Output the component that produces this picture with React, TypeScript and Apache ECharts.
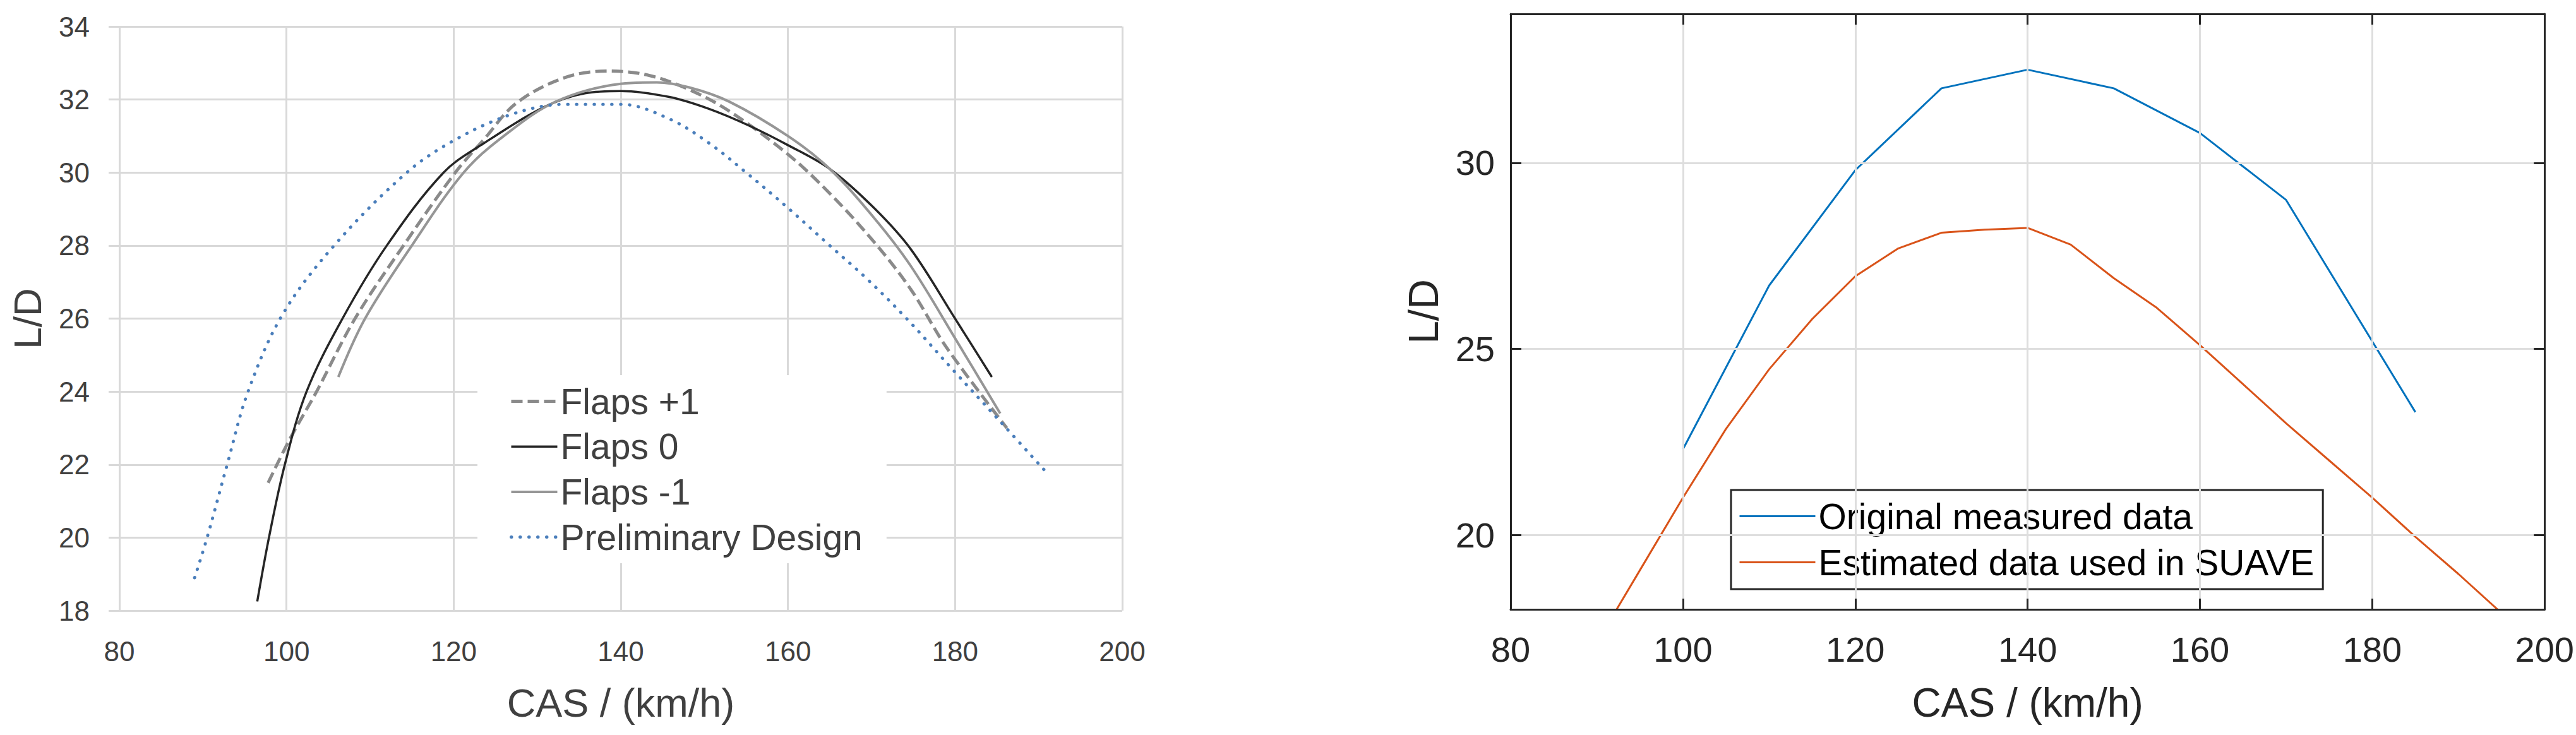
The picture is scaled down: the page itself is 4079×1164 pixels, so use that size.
import { useEffect, useRef } from "react";
import * as echarts from "echarts";

// ---------- Left chart (flight test curves) ----------
const flapsPlus1Cas = [97.8, 100.4, 103.6, 108.2, 114, 120.2, 123.6, 127.5, 133.3, 138.6, 143.4, 148.2, 153, 160, 165, 170.3, 174.7, 179, 186.2];
const flapsPlus1LD = [21.5, 22.7, 24.0, 26.0, 28.0, 30.0, 30.9, 31.9, 32.6, 32.78, 32.66, 32.27, 31.68, 30.5, 29.43, 28.1, 26.8, 25.2, 23.0];

const flaps0Cas = [96.5, 97.9, 99.8, 102.4, 106.7, 112.0, 118.8, 123.6, 130.9, 135.7, 140, 145.8, 150.6, 155.4, 160, 165, 170.3, 174.7, 180, 184.4];
const flaps0LD = [18.25, 20.0, 22.0, 24.0, 26.0, 28.0, 30.0, 30.8, 31.8, 32.17, 32.23, 32.07, 31.74, 31.28, 30.75, 30.1, 29.03, 27.9, 26.0, 24.4];

const flapsMinus1Cas = [106.2, 109.4, 115, 121.2, 126, 132.3, 140, 144.3, 148.2, 153, 160, 165, 170.3, 174.7, 180, 185.4];
const flapsMinus1LD = [24.4, 26.0, 28.0, 30.0, 31.0, 31.95, 32.43, 32.47, 32.33, 31.94, 31.0, 30.1, 28.76, 27.44, 25.46, 23.4];

const prelimCas = [89, 90.5, 92.9, 95.4, 99.5, 105.7, 114.4, 120.2, 127, 133.3, 140, 145.8, 150.6, 155, 160, 165, 169.4, 174.2, 180, 186, 190.8];
const prelimLD = [18.9, 20.0, 22.0, 24.0, 26.1, 28.0, 30.0, 30.9, 31.6, 31.87, 31.87, 31.47, 30.8, 30.0, 29.03, 28.0, 27.1, 26.0, 24.53, 23.03, 21.82];

const leftSeriesNames = ["Flaps +1", "Flaps 0", "Flaps -1", "Preliminary Design"];

// ---------- Right chart (SUAVE comparison) ----------
const measuredCas = [100, 110, 120, 130, 140, 150, 160, 170, 185];
const measuredLD = [22.3, 26.7, 29.8, 32.0, 32.5, 32.0, 30.8, 29.0, 23.3];

const suaveCas = [90, 95, 100, 105, 110, 115, 120, 125, 130, 135, 140, 145, 150, 155, 160, 165, 170, 175, 180, 185, 190, 195, 200];
const suaveLD = [17.1, 19.05, 21.0, 22.85, 24.45, 25.8, 26.95, 27.7, 28.12, 28.2, 28.25, 27.8, 26.9, 26.1, 25.1, 24.05, 23.0, 22.0, 21.0, 19.95, 18.95, 17.9, 16.9];

const rightSeriesNames = ["Original measured data", "Estimated data used in SUAVE"];

const xTickMin = 80;
const xTickMax = 200;
const xTickStep = 20;
const yMin = 18;
const yMax = 34;

const zip = (xs: number[], ys: number[]) => xs.map((x, i) => [x, ys[i]]);

const FONT = "'Liberation Sans', Arial, Helvetica, sans-serif";

const leftStyles = [
  { color: "#8a8a8a", width: 5, type: [18, 8] as any, cap: "butt" },
  { color: "#262626", width: 3.5, type: "solid" as any, cap: "butt" },
  { color: "#969696", width: 4, type: "solid" as any, cap: "butt" },
  { color: "#4a7ebb", width: 5, type: [0.5, 13.5] as any, cap: "round" },
];
const leftData = [
  zip(flapsPlus1Cas, flapsPlus1LD),
  zip(flaps0Cas, flaps0LD),
  zip(flapsMinus1Cas, flapsMinus1LD),
  zip(prelimCas, prelimLD),
];
const rightColors = ["#0072bd", "#d95319"];
const rightData = [zip(measuredCas, measuredLD), zip(suaveCas, suaveLD)];

function buildOption(): any {
  const leftGrid = "#d9d9d9";
  const leftText = "#404040";
  const rightText = "#262626";
  const rightGrid = "#dedede";

  const series: any[] = [];
  leftSeriesNames.forEach((name, i) => {
    series.push({
      name,
      type: "line",
      xAxisIndex: 0,
      yAxisIndex: 0,
      data: leftData[i],
      smooth: 0.35,
      symbol: "none",
      showSymbol: false,
      itemStyle: { color: leftStyles[i].color },
      lineStyle: { ...leftStyles[i] },
      z: 3,
    });
  });
  rightSeriesNames.forEach((name, i) => {
    series.push({
      name,
      type: "line",
      xAxisIndex: 1,
      yAxisIndex: 1,
      data: rightData[i],
      smooth: false,
      symbol: "none",
      showSymbol: false,
      clip: true,
      itemStyle: { color: rightColors[i] },
      lineStyle: { color: rightColors[i], width: 3 },
      z: 3,
    });
  });

  return {
    animation: false,
    backgroundColor: "#ffffff",
    textStyle: { fontFamily: FONT },
    grid: [
      { left: 189, top: 42, width: 1588, height: 925, containLabel: false },
      { left: 2392, top: 22, width: 1644, height: 943, containLabel: false },
    ],
    legend: [
      {
        orient: "vertical",
        left: 756,
        top: 594,
        padding: [13, 38, 13, 51],
        backgroundColor: "#ffffff",
        itemWidth: 73,
        itemHeight: 14,
        itemGap: 14.7,
        selectedMode: false,
        textStyle: { fontSize: 57, color: leftText, fontFamily: FONT },
        data: leftSeriesNames.map((name, i) => ({
          name,
          itemStyle: { opacity: 0, borderWidth: 0 },
          lineStyle: { ...leftStyles[i] },
        })),
      },
      {
        orient: "vertical",
        left: 2741,
        top: 776,
        padding: [13, 14, 14, 12],
        backgroundColor: "#ffffff",
        borderColor: "#262626",
        borderWidth: 3,
        borderRadius: 0,
        itemWidth: 120,
        itemHeight: 14,
        itemGap: 16,
        selectedMode: false,
        textStyle: { fontSize: 57, color: "#000000", fontFamily: FONT },
        data: rightSeriesNames.map((name, i) => ({
          name,
          itemStyle: { opacity: 0, borderWidth: 0 },
          lineStyle: { color: rightColors[i], width: 3 },
        })),
      },
    ],
    xAxis: [
      {
        gridIndex: 0,
        type: "value",
        min: xTickMin,
        max: xTickMax,
        interval: xTickStep,
        axisLine: { show: false },
        axisTick: { show: false },
        splitLine: { show: true, lineStyle: { color: leftGrid, width: 3 } },
        axisLabel: { fontSize: 44, color: leftText, margin: 42, fontFamily: FONT },
        name: "CAS / (km/h)",
        nameLocation: "middle",
        nameGap: 114,
        nameTextStyle: { fontSize: 63, color: leftText, fontFamily: FONT },
      },
      {
        gridIndex: 1,
        type: "value",
        position: "bottom",
        min: xTickMin,
        max: xTickMax,
        interval: xTickStep,
        axisLine: { show: true, onZero: false, lineStyle: { color: rightText, width: 3 } },
        axisTick: { show: true, inside: true, length: 17, lineStyle: { color: rightText, width: 3 } },
        splitLine: { show: true, lineStyle: { color: rightGrid, width: 3 } },
        axisLabel: { fontSize: 56, color: rightText, margin: 35, fontFamily: FONT },
        name: "CAS / (km/h)",
        nameLocation: "middle",
        nameGap: 116,
        nameTextStyle: { fontSize: 64, color: rightText, fontFamily: FONT },
        z: 5,
      },
      {
        gridIndex: 1,
        type: "value",
        position: "top",
        min: xTickMin,
        max: xTickMax,
        interval: xTickStep,
        axisLine: { show: true, onZero: false, lineStyle: { color: rightText, width: 3 } },
        axisTick: { show: true, inside: true, length: 17, lineStyle: { color: rightText, width: 3 } },
        splitLine: { show: false },
        axisLabel: { show: false },
        z: 5,
      },
    ],
    yAxis: [
      {
        gridIndex: 0,
        type: "value",
        min: yMin,
        max: yMax,
        interval: 2,
        axisLine: { show: false },
        axisTick: { show: true, length: 17, lineStyle: { color: leftGrid, width: 3 } },
        splitLine: { show: true, lineStyle: { color: leftGrid, width: 3 } },
        axisLabel: { fontSize: 44, color: leftText, margin: 47, fontFamily: FONT },
        name: "L/D",
        nameLocation: "middle",
        nameGap: 115,
        nameRotate: 90,
        nameTextStyle: { fontSize: 62, color: leftText, fontFamily: FONT },
      },
      {
        gridIndex: 1,
        type: "value",
        position: "left",
        min: yMin,
        max: yMax,
        splitNumber: 3,
        axisLine: { show: true, onZero: false, lineStyle: { color: rightText, width: 3 } },
        axisTick: { show: true, inside: true, length: 17, lineStyle: { color: rightText, width: 3 } },
        splitLine: { show: true, lineStyle: { color: rightGrid, width: 3 } },
        axisLabel: {
          fontSize: 56,
          color: rightText,
          margin: 25,
          fontFamily: FONT,
          showMinLabel: false,
          showMaxLabel: false,
          formatter: (v: number) => (v % 5 === 0 ? String(v) : ""),
        },
        name: "L/D",
        nameLocation: "middle",
        nameGap: 105,
        nameRotate: 90,
        nameTextStyle: { fontSize: 66, color: rightText, fontFamily: FONT },
        z: 5,
      },
      {
        gridIndex: 1,
        type: "value",
        position: "right",
        min: yMin,
        max: yMax,
        splitNumber: 3,
        axisLine: { show: true, onZero: false, lineStyle: { color: rightText, width: 3 } },
        axisTick: { show: true, inside: true, length: 17, lineStyle: { color: rightText, width: 3 } },
        splitLine: { show: false },
        axisLabel: { show: false },
        z: 5,
      },
    ],
    series,
  };
}

export default function App() {
  const ref = useRef<HTMLDivElement>(null);
  useEffect(() => {
    if (!ref.current) return;
    const chart = echarts.init(ref.current, null, { renderer: "svg" });
    chart.setOption(buildOption());
    return () => {
      chart.dispose();
    };
  }, []);
  return (
    <div
      ref={ref}
      style={{ position: "absolute", left: 0, top: 0, width: 4079, height: 1164, background: "#ffffff" }}
    />
  );
}
